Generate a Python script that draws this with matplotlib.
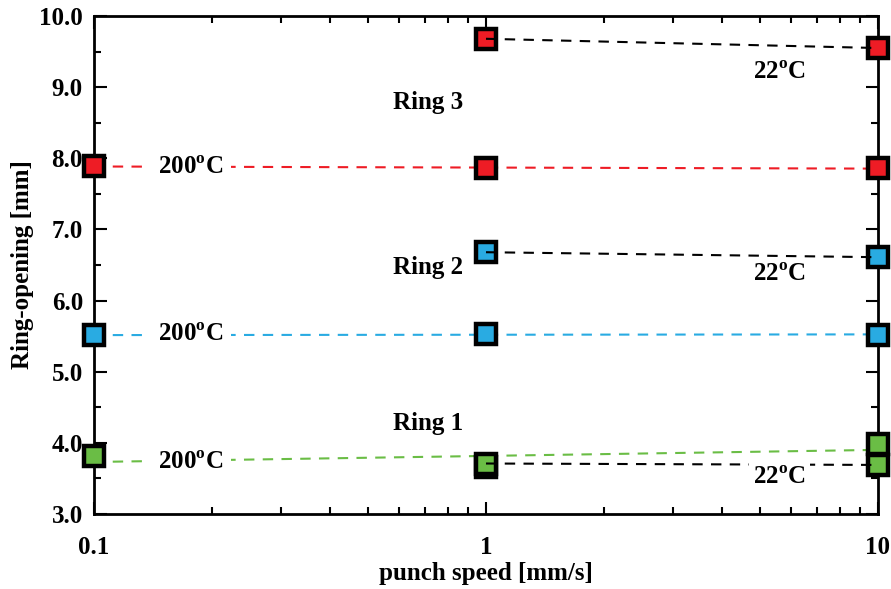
import numpy as np
import matplotlib.pyplot as plt
from matplotlib.ticker import FixedLocator, MultipleLocator, FormatStrFormatter

plt.rcParams['font.family'] = 'Liberation Serif'
plt.rcParams['font.weight'] = 'bold'
plt.rcParams['axes.labelweight'] = 'bold'
plt.rcParams['mathtext.fontset'] = 'custom'
plt.rcParams['mathtext.rm'] = 'Liberation Serif:bold'

# punch speeds [mm/s]
speed_hot = [0.1, 1, 10]
speed_cold = [1, 10]

# ring opening [mm], 200 C and 22 C
ring1_hot = [3.81, 3.66, 3.98]
ring1_cold = [3.71, 3.69]
ring2_hot = [5.51, 5.53, 5.52]
ring2_cold = [6.68, 6.61]
ring3_hot = [7.89, 7.86, 7.86]
ring3_cold = [9.68, 9.55]

colors = ['#6ABD45', '#29ABE2', '#EE1C25']
rings = ['Ring 1', 'Ring 2', 'Ring 3']

fig = plt.figure(figsize=(8.91, 5.89), dpi=100)
ax = fig.add_axes([0.1055, 0.1273, 0.8799, 0.8455])


def fit_line(x, y):
    lx = np.log10(x)
    k, b = np.polyfit(lx, y, 1)
    xs = np.array([min(x), max(x)])
    return xs, k * np.log10(xs) + b


hot = [ring1_hot, ring2_hot, ring3_hot]
cold = [ring1_cold, ring2_cold, ring3_cold]

for c, h, cd in zip(colors, hot, cold):
    ax.plot(speed_hot, h, 's', ms=15, mfc=c, mec='black', mew=3.2, zorder=3, clip_on=False)
    ax.plot(speed_cold, cd, 's', ms=15, mfc=c, mec='black', mew=3.2, zorder=3, clip_on=False)
    xs, ys = fit_line(speed_hot, h)
    ax.plot(xs, ys, '--', color=c, lw=1.5, dashes=(5, 4), zorder=2)
    xs, ys = fit_line(speed_cold, cd)
    ax.plot(xs, ys, '--', color='black', lw=1.5, dashes=(5, 4), zorder=4)

# annotations
hot_lbl_y = [3.72, 5.52, 7.87]
cold_lbl_y = [3.51, 6.36, 9.21]
ring_lbl_y = [4.27, 6.46, 8.79]
for i in range(3):
    ax.text(0.176, hot_lbl_y[i], '200$^\\mathrm{o}$C', ha='center', va='center',
            fontsize=18, bbox=dict(facecolor='white', edgecolor='none', pad=6), zorder=5)
    ax.text(5.6, cold_lbl_y[i], '22$^\\mathrm{o}$C', ha='center', va='center',
            fontsize=18, bbox=dict(facecolor='white', edgecolor='none', pad=3), zorder=5)
    ax.text(0.71, ring_lbl_y[i], rings[i], ha='center', va='center', fontsize=18)

ax.set_xscale('log')
ax.set_xlim(0.1, 10)
ax.set_ylim(3.0, 10.0)
ax.xaxis.set_major_locator(FixedLocator([0.1, 1, 10]))
ax.set_xticklabels(['0.1', '1', '10'])
ax.yaxis.set_major_locator(MultipleLocator(1.0))
ax.yaxis.set_minor_locator(MultipleLocator(0.5))
ax.yaxis.set_major_formatter(FormatStrFormatter('%.1f'))

ax.tick_params(which='both', direction='in', top=True, right=True, width=1.5,
               labelsize=18)
ax.tick_params(axis='x', pad=16)
ax.tick_params(axis='y', pad=8)
ax.tick_params(which='major', length=9)
ax.tick_params(which='minor', length=5)
for s in ax.spines.values():
    s.set_linewidth(2)

ax.set_xlabel('punch speed [mm/s]', fontsize=18, labelpad=2)
ax.set_ylabel('Ring-opening [mm]', fontsize=18, labelpad=4)

fig.savefig('out.png', dpi=100)
